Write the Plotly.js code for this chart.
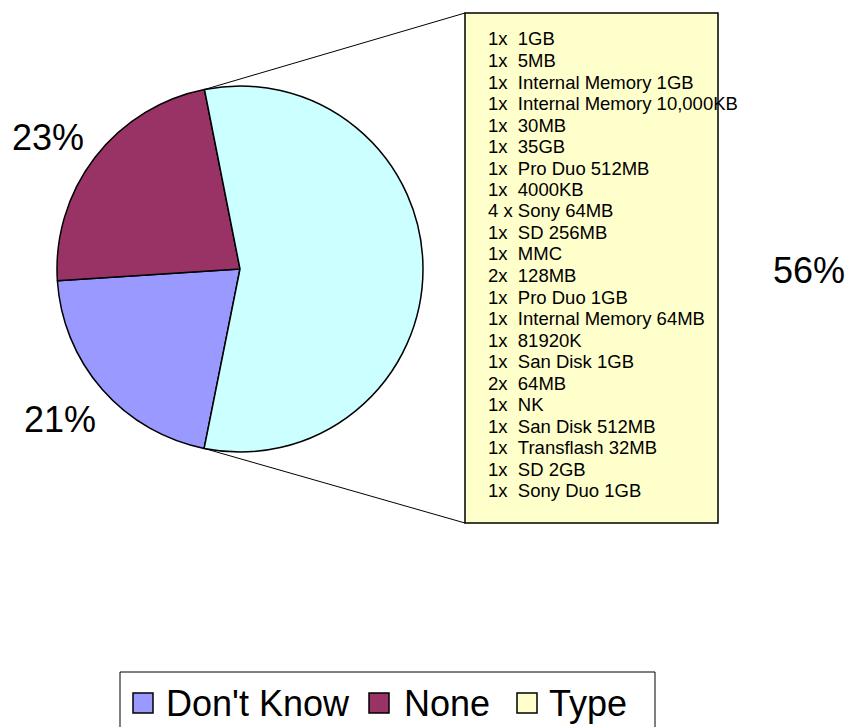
<!DOCTYPE html>
<html>
<head>
<meta charset="utf-8">
<script src="https://cdn.plot.ly/plotly-3.0.1.min.js"></script>
<style>html,body{margin:0;padding:0;background:#fff;}#chart{width:852px;height:727px;}</style>
</head>
<body>
<div id="chart"></div>
<script>
// ---- data ----
var categories = ["Don't Know", "None", "Type"];
var counts = [10, 11, 27];
var sliceColors = ["#9999FF", "#993366", "#CCFFFF"];
var legendColors = ["#9999FF", "#993366", "#FFFFCC"];
var typeItems = [
  "1x\u00a0\u00a01GB",
  "1x\u00a0\u00a05MB",
  "1x\u00a0\u00a0Internal Memory 1GB",
  "1x\u00a0\u00a0Internal Memory 10,000KB",
  "1x\u00a0\u00a030MB",
  "1x\u00a0\u00a035GB",
  "1x\u00a0\u00a0Pro Duo 512MB",
  "1x\u00a0\u00a04000KB",
  "4 x Sony 64MB",
  "1x\u00a0\u00a0SD 256MB",
  "1x\u00a0\u00a0MMC",
  "2x\u00a0\u00a0128MB",
  "1x\u00a0\u00a0Pro Duo 1GB",
  "1x\u00a0\u00a0Internal Memory 64MB",
  "1x\u00a0\u00a081920K",
  "1x\u00a0\u00a0San Disk 1GB",
  "2x\u00a0\u00a064MB",
  "1x\u00a0\u00a0NK",
  "1x\u00a0\u00a0San Disk 512MB",
  "1x\u00a0\u00a0Transflash 32MB",
  "1x\u00a0\u00a0SD 2GB",
  "1x\u00a0\u00a0Sony Duo 1GB"
];

// ---- layout helpers (pixels -> paper) ----
var W = 852, H = 727;
function px(x) { return x / W; }
function py(y) { return 1 - y / H; }
var FONT = "Arial, 'Liberation Sans', sans-serif";

var cx = 240, cy = 269, R = 183;
var rotation = 191.3;
var total = counts.reduce(function (a, b) { return a + b; }, 0);

var trace = {
  type: "pie",
  labels: categories,
  values: counts,
  sort: false,
  direction: "clockwise",
  rotation: rotation,
  textinfo: "none",
  hoverinfo: "label+percent",
  showlegend: false,
  marker: { colors: sliceColors, line: { color: "#000", width: 1.5 } },
  domain: { x: [px(cx - R), px(cx + R)], y: [py(cy + R), py(cy - R)] }
};

var shapes = [];
var annotations = [];

// Exploded-detail box for "Type"
var box = { x0: 465, x1: 718, y0: 13, y1: 523 };
// boundary points of the Type slice (computed from data)
var startDeg = rotation + (counts[0] + counts[1]) / total * 360; // Type start (clockwise from top)
var endDeg = startDeg + counts[2] / total * 360;
function edge(deg) {
  var a = deg * Math.PI / 180;
  return [cx + R * Math.sin(a), cy - R * Math.cos(a)];
}
var pTop = edge(startDeg), pBot = edge(endDeg);
shapes.push({ type: "line", xref: "paper", yref: "paper", x0: px(pTop[0]), y0: py(pTop[1]), x1: px(box.x0), y1: py(box.y0), line: { color: "#000", width: 1 } });
shapes.push({ type: "line", xref: "paper", yref: "paper", x0: px(pBot[0]), y0: py(pBot[1]), x1: px(box.x0), y1: py(box.y1), line: { color: "#000", width: 1 } });
shapes.push({ type: "rect", xref: "paper", yref: "paper", x0: px(box.x0), x1: px(box.x1), y0: py(box.y1), y1: py(box.y0), fillcolor: "#FFFFCC", line: { color: "#000", width: 1.5 } });

typeItems.forEach(function (t, i) {
  annotations.push({
    xref: "paper", yref: "paper", x: px(486), y: py(39 + 21.5 * i),
    xanchor: "left", yanchor: "middle", showarrow: false, text: t,
    font: { family: FONT, size: 18.5, color: "#000" }
  });
});

// Percent labels
var labelPos = [[60, 419], [48, 137], [809, 271]];
counts.forEach(function (v, i) {
  annotations.push({
    xref: "paper", yref: "paper", x: px(labelPos[i][0]), y: py(labelPos[i][1]),
    xanchor: "center", yanchor: "middle", showarrow: false,
    text: Math.round(v / total * 100) + "%",
    font: { family: FONT, size: 36, color: "#000" }
  });
});

// Legend (drawn manually)
shapes.push({ type: "rect", xref: "paper", yref: "paper", x0: px(120), x1: px(655), y0: py(745), y1: py(672), fillcolor: "#fff", line: { color: "#000", width: 1 } });
var legX = [133, 369, 517];
var legTextX = [164, 402, 547];
categories.forEach(function (c, i) {
  shapes.push({ type: "rect", xref: "paper", yref: "paper", x0: px(legX[i]), x1: px(legX[i] + 20), y0: py(713), y1: py(693), fillcolor: legendColors[i], line: { color: "#000", width: 1.5 } });
  annotations.push({
    xref: "paper", yref: "paper", x: px(legTextX[i]), y: py(703),
    xanchor: "left", yanchor: "middle", showarrow: false, text: c,
    font: { family: FONT, size: 36, color: "#000" }
  });
});

var layout = {
  width: W, height: H,
  margin: { l: 0, r: 0, t: 0, b: 0 },
  paper_bgcolor: "#fff",
  showlegend: false,
  shapes: shapes,
  annotations: annotations
};

Plotly.newPlot("chart", [trace], layout, { displayModeBar: false, staticPlot: true });
</script>
</body>
</html>
